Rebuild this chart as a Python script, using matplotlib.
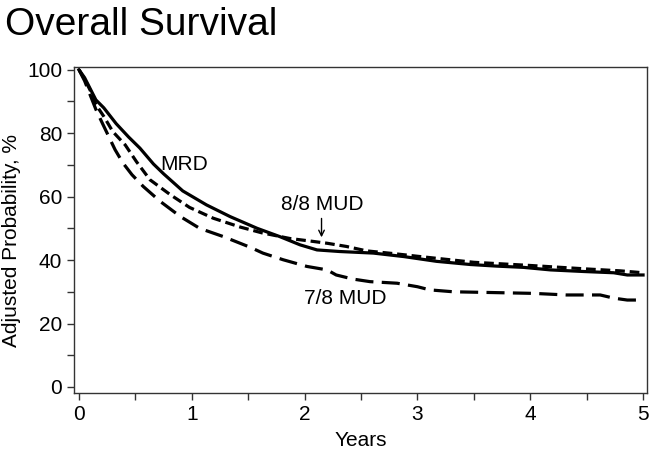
import numpy as np
import matplotlib
matplotlib.use("Agg")
import matplotlib.pyplot as plt
from matplotlib.ticker import MultipleLocator

plt.rcParams['font.family'] = ['Liberation Sans', 'DejaVu Sans']
plt.rcParams['lines.scale_dashes'] = False

# adjusted survival curves (years, %)
mrd_t = [0, 0.05, 0.1, 0.15, 0.22, 0.33, 0.44, 0.54, 0.66, 0.75, 0.92, 1.13, 1.34, 1.58,
         1.78, 1.96, 2.11, 2.31, 2.61, 2.88, 3.17, 3.47, 3.70, 3.94, 4.18, 4.47, 4.74, 4.86, 5.0]
mrd_s = [100, 97.5, 94, 90.5, 88, 83, 78.8, 75.3, 70.3, 67.2, 61.8, 57.4, 53.7, 50,
         47.4, 44.8, 43.2, 42.7, 42.2, 41.1, 39.6, 38.6, 38.1, 37.7, 36.9, 36.4, 36.0, 35.3, 35.3]
mud8_t = [0, 0.05, 0.1, 0.15, 0.22, 0.30, 0.41, 0.51, 0.63, 0.81, 0.98, 1.19, 1.43, 1.62, 1.87,
          2.05, 2.2, 2.37, 2.55, 2.8, 3.0, 3.5, 4.0, 4.5, 4.8, 5.0]
mud8_s = [100, 97, 93.5, 89, 85.3, 80.5, 76.3, 71, 65.3, 60.6, 56.6, 53.2, 50.4, 48.6, 46.8,
          46.0, 45.3, 44.3, 42.9, 42.0, 41.2, 39.3, 38.3, 37.2, 36.6, 36.0]
mud7_t = [0, 0.05, 0.1, 0.15, 0.2, 0.27, 0.32, 0.39, 0.47, 0.57, 0.72, 0.9, 1.07, 1.28, 1.52,
          1.63, 1.81, 2.02, 2.2, 2.28, 2.43, 2.58, 2.82, 3.0, 3.11, 3.32, 3.61,
          4.03, 4.32, 4.62, 4.74, 4.86, 5.0]
mud7_s = [100, 96.5, 92, 87.5, 83.7, 78.5, 74.8, 70.6, 66.9, 63.2, 58.5, 53.7, 50, 47.4, 44.0,
          42.2, 40.1, 38, 36.9, 35.3, 34, 33.2, 32.7, 31.6, 30.6, 30, 29.8,
          29.5, 29, 29, 28, 27.4, 27.4]

fig = plt.figure(figsize=(6.52, 4.53), dpi=100)
ax = fig.add_axes([0.1135, 0.1325, 0.992 - 0.1135, 0.853 - 0.1325])

ax.plot(mrd_t, mrd_s, color='black', lw=2.3, solid_joinstyle='round')
ax.plot(mud8_t, mud8_s, color='black', lw=2.3, dashes=(7, 3.5))
ax.plot(mud7_t, mud7_s, color='black', lw=2.3, dashes=(13, 6))

ax.text(0.72, 70, 'MRD', fontsize=15, va='center', ha='left')
ax.text(2.16, 57.4, '8/8 MUD', fontsize=15, va='center', ha='center')
ax.annotate('', xy=(2.15, 46.3), xytext=(2.15, 54.0),
            arrowprops=dict(arrowstyle='->', lw=1, color='black'))
ax.text(2.36, 28, '7/8 MUD', fontsize=15, va='center', ha='center')

ax.set_xlim(-0.044, 5.033)
ax.set_ylim(-1.9, 101.0)
ax.xaxis.set_major_locator(MultipleLocator(1))
ax.xaxis.set_minor_locator(MultipleLocator(0.5))
ax.yaxis.set_major_locator(MultipleLocator(20))
ax.yaxis.set_minor_locator(MultipleLocator(10))
ax.tick_params(which='both', direction='out', length=5, width=1, color='#333333',
               labelsize=15)
for s in ax.spines.values():
    s.set_color('#333333')
    s.set_linewidth(1)

ax.set_xlabel('Years', fontsize=15, labelpad=5)
fig.text(0.018, 0.47, 'Adjusted Probability, %', rotation=90, fontsize=15,
         ha='center', va='center')
fig.text(0.008, 1 - 35 / 453, 'Overall Survival', fontsize=28, va='baseline')

fig.savefig('out.png', dpi=100)
